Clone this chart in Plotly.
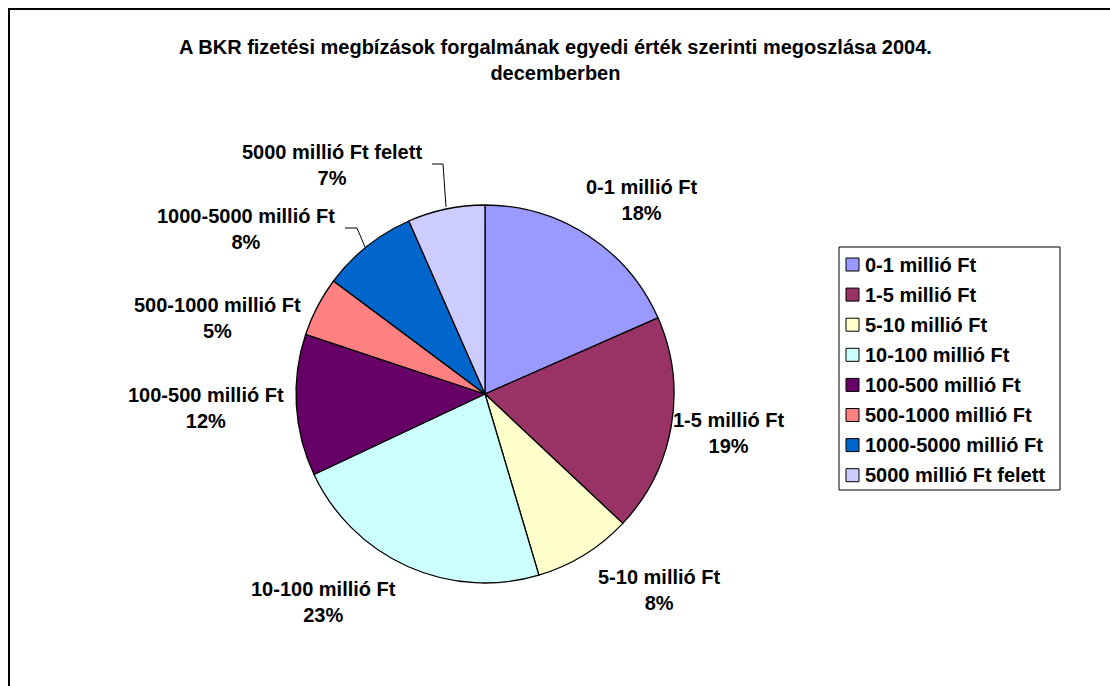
import plotly.graph_objects as go

categories = ["0-1 millió Ft", "1-5 millió Ft", "5-10 millió Ft", "10-100 millió Ft",
              "100-500 millió Ft", "500-1000 millió Ft", "1000-5000 millió Ft",
              "5000 millió Ft felett"]
values = [18.4, 18.6, 8.4, 22.6, 12.1, 5.1, 8.2, 6.6]
colors = ["#9999FF", "#993366", "#FFFFCC", "#CCFFFF", "#660066", "#FF8080", "#0066CC", "#CCCCFF"]
title_text = "A BKR fizetési megbízások forgalmának egyedi érték szerinti megoszlása 2004.<br>decemberben"

W, H = 1110, 686
FONT = "Liberation Sans, Arial, sans-serif"
FS = 20

def px(x):
    return x / W

def py(y):
    return 1 - y / H

fig = go.Figure()
fig.add_trace(go.Pie(
    labels=categories, values=values, sort=False, direction="clockwise", rotation=0,
    marker=dict(colors=colors, line=dict(color="black", width=1.3)),
    textinfo="none", hoverinfo="label+percent", showlegend=False,
    domain=dict(x=[px(296), px(674)], y=[py(583), py(205)]),
))

# slice label positions (text centres, pixels)
label_pos = [(641, 200), (728, 433), (659, 590), (323, 602), (206, 408), (217, 318), (246, 229), (332, 165)]
total = sum(values)
annotations = []
for cat, v, (lx, ly) in zip(categories, values, label_pos):
    annotations.append(dict(
        x=px(lx), y=py(ly), xref="paper", yref="paper", showarrow=False,
        xanchor="center", yanchor="middle",
        text=f"<b>{cat}<br>{round(100 * v / total):d}%</b>", align="center",
        font=dict(family=FONT, size=FS, color="black"),
    ))

shapes = []
# outer chart border (continues past right/bottom edges)
shapes.append(dict(type="rect", xref="paper", yref="paper", x0=px(9), y0=-0.05, x1=1.05, y1=py(9),
                   line=dict(color="black", width=2)))
# leader lines
shapes.append(dict(type="path", xref="paper", yref="paper",
                   path=f"M {px(345)} {py(228)} L {px(357)} {py(228)} L {px(365)} {py(247)}",
                   line=dict(color="black", width=1)))
shapes.append(dict(type="path", xref="paper", yref="paper",
                   path=f"M {px(432)} {py(164)} L {px(443)} {py(164)} L {px(446)} {py(207)}",
                   line=dict(color="black", width=1)))

# legend box
shapes.append(dict(type="rect", xref="paper", yref="paper", x0=px(839), y0=py(490), x1=px(1060), y1=py(247),
                   line=dict(color="black", width=1), fillcolor="white"))
for i, (cat, col) in enumerate(zip(categories, colors)):
    cy = 264.5 + i * 30.1
    shapes.append(dict(type="rect", xref="paper", yref="paper",
                       x0=px(846), x1=px(859), y0=py(cy + 6.5), y1=py(cy - 6.5),
                       fillcolor=col, line=dict(color="black", width=1)))
    annotations.append(dict(
        x=px(863), y=py(cy), xref="paper", yref="paper", showarrow=False,
        xanchor="left", yanchor="middle",
        text=f"<b>{cat}</b>", font=dict(family=FONT, size=FS, color="black"),
    ))

# title
annotations.append(dict(
    x=px(555), y=py(60), xref="paper", yref="paper", showarrow=False,
    xanchor="center", yanchor="middle",
    text=f"<b>{title_text}</b>", font=dict(family=FONT, size=FS, color="black"),
))

fig.update_layout(
    width=W, height=H, margin=dict(l=0, r=0, t=0, b=0),
    paper_bgcolor="white", plot_bgcolor="white",
    shapes=shapes, annotations=annotations, showlegend=False,
)

fig.write_html("out.html", config={"displayModeBar": False},
               post_script="document.body.style.margin='0';document.body.style.overflow='hidden';")
